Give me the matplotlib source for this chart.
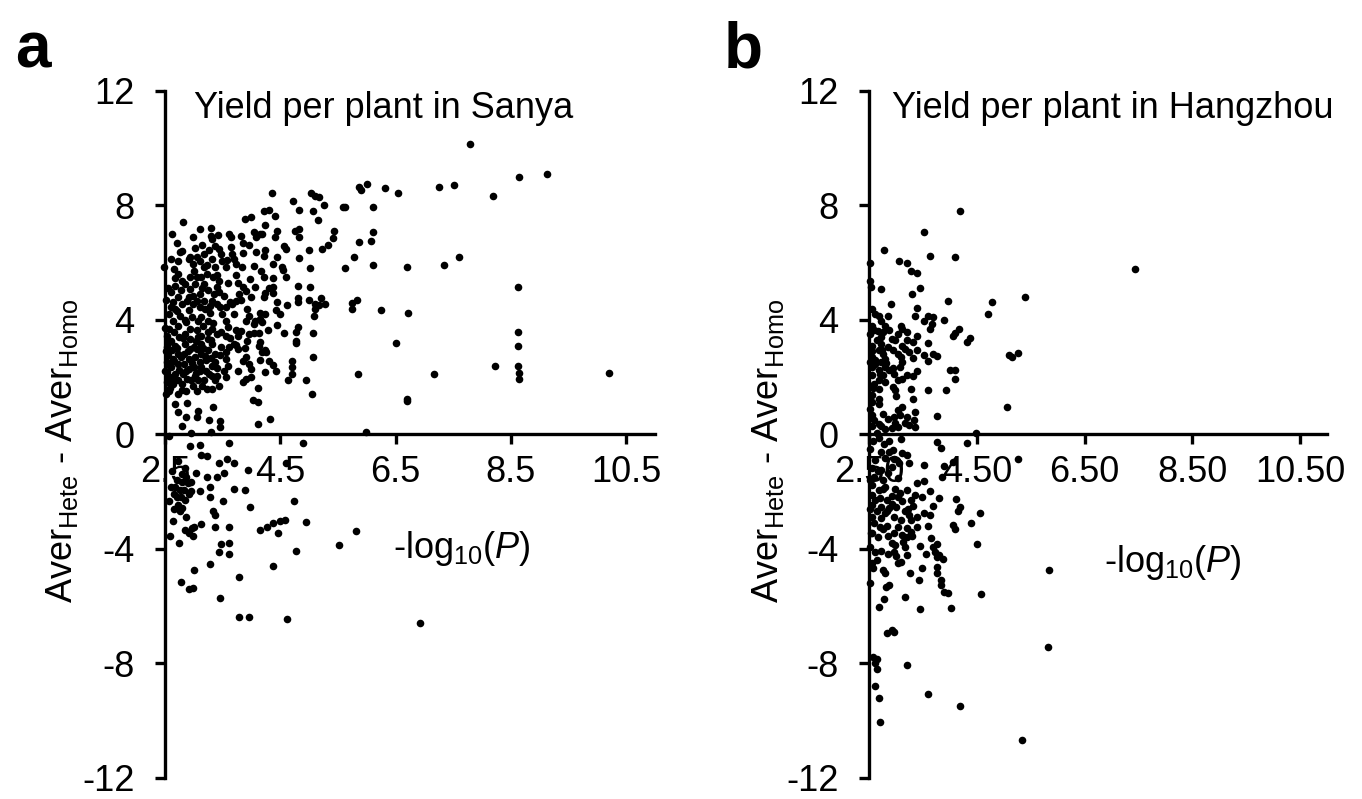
import numpy as np
import matplotlib
matplotlib.use("Agg")
import matplotlib.pyplot as plt

plt.rcParams['font.family'] = ['Liberation Sans', 'DejaVu Sans']
plt.rcParams['mathtext.fontset'] = 'custom'
plt.rcParams['mathtext.rm'] = 'Liberation Sans'
plt.rcParams['mathtext.it'] = 'Liberation Sans:italic'

# (-log10 P, Aver_Hete - Aver_Homo)
sanya = [
    (7.79, 10.16), (9.13, 9.10), (8.64, 8.98), (8.19, 8.33), (7.51, 8.71), (7.25, 8.65),
    (6.55, 8.43), (6.31, 8.60), (6.00, 8.74), (5.86, 8.65), (5.90, 8.53), (6.11, 7.93),
    (5.58, 7.93), (5.62, 7.93), (6.10, 7.08), (6.08, 6.77), (5.87, 6.73), (5.78, 6.19),
    (5.62, 5.80), (6.11, 5.93), (6.69, 5.84), (7.34, 5.92), (7.60, 6.21), (8.62, 5.16),
    (8.62, 3.59), (8.62, 3.07), (8.62, 2.38), (8.64, 2.14), (8.64, 1.94), (8.23, 2.38),
    (10.2, 2.14), (7.16, 2.09), (6.50, 3.20), (6.72, 4.23), (6.24, 4.33), (5.83, 4.71),
    (5.75, 4.58), (5.74, 4.38), (5.85, 2.09), (6.70, 1.24), (5.43, 7.11), (5.41, 6.85),
    (5.33, 6.60), (5.23, 6.48), (5.26, 8.02), (5.17, 8.28), (5.11, 8.33), (5.04, 8.45),
    (5.06, 7.79), (5.15, 7.50), (4.83, 7.85), (4.72, 8.16), (4.82, 7.17), (4.75, 7.11),
    (4.83, 6.91), (4.99, 6.43), (4.82, 6.15), (5.02, 5.81), (5.01, 5.14), (4.80, 5.17),
    (4.81, 4.76), (4.80, 4.62), (4.99, 4.71), (5.11, 4.56), (5.20, 4.76), (5.28, 4.56),
    (5.18, 4.53), (5.11, 4.38), (5.09, 4.15), (5.07, 3.53), (5.07, 2.70), (5.05, 1.42),
    (4.95, 1.88), (4.80, 3.74), (4.78, 3.56), (4.78, 3.27), (4.78, 3.20), (4.71, 2.56),
    (4.71, 2.35), (4.71, 2.12), (4.63, 1.88), (4.62, 4.52), (4.56, 3.55), (4.49, 4.21),
    (4.60, 5.49), (4.54, 5.74), (4.53, 5.84), (4.56, 6.58), (4.60, 6.47), (4.45, 6.19),
    (4.35, 8.42), (4.41, 7.64), (4.45, 7.11), (4.41, 6.90), (4.31, 7.84), (4.22, 7.79),
    (4.24, 7.33), (4.18, 7.00), (4.15, 7.00), (4.00, 7.60), (3.89, 7.52), (4.04, 7.06),
    (4.24, 6.43), (4.22, 6.22), (4.07, 6.38), (4.05, 5.88), (4.16, 5.72), (4.22, 5.51),
    (4.37, 5.95), (4.38, 5.47), (4.37, 5.16), (4.31, 5.12), (4.24, 4.93), (4.22, 4.79),
    (4.38, 4.93), (4.44, 4.64), (4.43, 4.35), (4.15, 4.23), (4.24, 4.19), (4.19, 3.94),
    (4.15, 4.03), (4.06, 3.97), (3.96, 4.12), (3.92, 4.38), (3.91, 3.97), (4.04, 3.86),
    (4.45, 3.81), (4.28, 3.63), (4.13, 3.53), (4.04, 3.53), (3.96, 3.51), (4.15, 3.22),
    (4.13, 3.10), (4.23, 2.93), (4.26, 2.87), (4.19, 2.87), (4.30, 2.56), (4.14, 2.58),
    (4.38, 2.41), (4.43, 2.20), (4.24, 2.17), (4.00, 2.29), (4.11, 1.60), (4.00, 1.99),
    (3.91, 1.94), (3.85, 1.82), (3.77, 2.21), (3.85, 2.56), (3.90, 2.70), (3.76, 2.99),
    (3.74, 3.63), (3.74, 3.13), (3.77, 3.42), (3.92, 3.26), (4.00, 4.81), (4.06, 5.16),
    (3.98, 5.43), (3.85, 5.16), (3.91, 5.02), (3.78, 4.91), (3.74, 4.67), (3.81, 4.70),
    (3.66, 4.56), (3.62, 4.62), (3.56, 4.44), (3.49, 4.21), (3.55, 3.97), (3.59, 3.74),
    (3.47, 3.56), (3.55, 3.44), (3.62, 3.38), (3.70, 3.15), (3.61, 3.05), (3.56, 2.87),
    (3.46, 2.76), (3.55, 2.63), (3.59, 2.40), (3.52, 2.22), (3.56, 2.00), (3.40, 2.05),
    (3.36, 1.88), (3.44, 1.70), (3.32, 1.59), (3.83, 5.84), (3.73, 5.58), (3.69, 6.13),
    (3.66, 6.30), (3.64, 6.56), (3.65, 6.88), (3.61, 7.00), (3.81, 6.94), (3.85, 6.70),
    (3.86, 6.35), (3.74, 5.95), (3.76, 5.30), (3.55, 5.84), (3.49, 6.07), (3.47, 6.30),
    (3.44, 6.47), (3.36, 6.59), (3.32, 6.83), (3.29, 6.94), (3.26, 6.43), (3.32, 6.13),
    (3.36, 5.84), (3.40, 5.55), (3.34, 5.49), (3.44, 5.37), (3.40, 5.14), (3.35, 4.91),
    (3.44, 4.97), (3.32, 4.67), (3.40, 4.56), (3.46, 4.44), (3.28, 4.23), (3.34, 3.88),
    (3.25, 3.97), (3.32, 3.68), (3.24, 3.56), (3.40, 3.51), (3.25, 3.33), (3.32, 3.15),
    (3.24, 2.96), (3.36, 2.81), (3.29, 2.67), (3.21, 2.58), (3.36, 2.52), (3.31, 2.40),
    (3.21, 2.22), (3.31, 2.05), (3.17, 1.88), (3.23, 1.59), (3.10, 7.17), (3.17, 6.30),
    (3.10, 6.07), (3.17, 5.84), (3.13, 5.49), (3.23, 5.60), (3.17, 5.26), (3.25, 5.03),
    (3.11, 4.91), (3.17, 4.67), (3.10, 4.44), (3.19, 4.38), (3.13, 4.09), (3.07, 3.97),
    (3.16, 3.80), (3.06, 3.63), (3.13, 3.44), (3.04, 3.27), (3.13, 3.15), (3.06, 2.99),
    (3.13, 2.81), (3.02, 2.70), (3.10, 2.52), (3.01, 2.35), (3.10, 2.22), (3.02, 2.05),
    (3.08, 1.88), (2.98, 1.70), (3.06, 1.51), (3.02, 6.52), (3.06, 6.19), (2.98, 5.95),
    (2.94, 6.19), (2.91, 6.13), (3.01, 5.72), (2.94, 5.49), (3.02, 5.26), (2.94, 5.08),
    (2.98, 4.85), (2.88, 4.67), (2.98, 4.56), (2.91, 4.33), (2.96, 4.09), (2.87, 3.92),
    (2.94, 3.68), (2.85, 3.51), (2.94, 3.33), (2.85, 3.15), (2.94, 2.99), (2.83, 2.81),
    (2.91, 2.63), (2.83, 2.46), (2.91, 2.29), (2.81, 2.12), (2.88, 1.94), (2.80, 1.77),
    (2.87, 1.51), (2.81, 7.41), (2.76, 6.36), (2.80, 6.40), (2.72, 6.07), (2.66, 5.78),
    (2.61, 6.13), (2.63, 7.00), (2.49, 5.84), (2.72, 5.60), (2.80, 5.37), (2.68, 5.20),
    (2.61, 4.97), (2.77, 5.03), (2.72, 4.79), (2.64, 4.62), (2.79, 4.56), (2.68, 4.38),
    (2.57, 4.21), (2.76, 4.15), (2.64, 3.97), (2.72, 3.80), (2.57, 3.68), (2.65, 3.56),
    (2.53, 3.45), (2.74, 3.39), (2.60, 3.27), (2.67, 3.10), (2.53, 3.05), (2.62, 2.93),
    (2.72, 2.81), (2.55, 2.76), (2.64, 2.63), (2.53, 2.52), (2.72, 2.46), (2.60, 2.35),
    (2.53, 2.17), (2.67, 2.12), (2.59, 2.00), (2.53, 1.83), (2.64, 1.77), (2.72, 1.88),
    (2.57, 1.51), (2.72, 1.42),
    # extra points in the dense block
    (2.52, 2.90), (2.55, 3.20), (2.58, 2.40), (2.62, 1.95), (2.66, 2.55), (2.70, 3.00),
    (2.75, 2.25), (2.78, 2.70), (2.82, 3.35), (2.86, 2.20), (2.90, 2.90), (2.96, 2.50),
    (3.00, 3.05), (3.04, 2.15), (3.08, 3.40), (3.12, 2.35), (3.16, 3.00), (3.20, 2.75),
    (3.26, 2.10), (3.30, 3.30), (2.60, 4.45), (2.70, 4.30), (2.84, 4.00), (2.92, 4.80),
    (3.05, 4.65), (3.15, 5.10), (3.28, 4.50), (2.55, 5.10), (2.68, 5.45), (2.85, 5.25),
    (3.05, 5.50), (3.22, 5.90), (2.58, 1.60), (2.80, 1.55), (2.95, 1.90), (3.15, 1.70),
    (3.40, 2.30), (3.48, 3.05), (3.52, 4.85), (3.60, 5.30), (3.70, 4.20), (3.82, 3.60),
    (3.88, 3.00), (3.95, 2.45), (3.58, 6.10), (3.95, 6.60), (4.08, 6.90), (3.42, 6.95),
    (3.30, 7.20), (2.70, 6.70), (2.98, 6.90), (3.15, 6.60), (2.50, 2.20), (2.50, 3.70),
    (2.52, 4.70), (2.51, 1.40),
    # below ~1.2
    (2.68, 1.06), (2.88, 1.08), (2.72, 0.79), (2.87, 0.62), (3.08, 0.83), (3.06, 0.62),
    (2.79, 0.29), (2.95, 0.03), (3.27, 0.50), (3.29, 0.09), (3.34, 0.97), (3.46, 0.48),
    (3.46, 0.27), (4.11, 0.36), (4.32, 0.54), (4.02, 1.20), (4.12, 1.11), (6.70, 1.17),
    (5.98, 0.09), (2.57, -0.06), (2.93, -0.41), (3.10, -0.37), (3.12, -0.72), (3.22, -0.76),
    (3.61, -0.29), (4.89, -0.31), (4.60, -0.99), (3.44, -0.99), (3.57, -0.87), (3.70, -1.01),
    (3.94, -1.25), (3.53, -1.36), (3.40, -1.48), (3.23, -1.50), (3.28, -1.85), (3.10, -2.00),
    (3.70, -1.92), (3.89, -1.95), (2.85, -1.19), (2.87, -1.48), (3.03, -1.34), (2.95, -1.66),
    (2.79, -1.66), (2.68, -1.83), (2.61, -1.85), (2.83, -1.95), (2.76, -1.95), (2.91, -2.09),
    (3.28, -2.18), (3.51, -2.33), (2.57, -2.35), (2.72, -2.47), (2.79, -2.59), (2.76, -2.70),
    (3.34, -2.70), (3.36, -2.82), (3.97, -2.55), (4.73, -2.35), (2.87, -2.90), (2.64, -3.02),
    (3.13, -3.14), (3.00, -3.23), (2.96, -3.29), (2.85, -3.34), (2.91, -3.46), (2.98, -3.55),
    (3.36, -3.23), (3.61, -3.23), (4.14, -3.34), (4.27, -3.23), (4.38, -3.09), (4.49, -3.02),
    (4.58, -3.00), (4.95, -3.07), (4.46, -3.46), (5.82, -3.38), (5.51, -3.87), (2.58, -3.55),
    (2.75, -3.79), (3.48, -3.83), (3.61, -3.79), (3.43, -4.10), (3.61, -4.18), (4.78, -4.07),
    (3.28, -4.55), (4.38, -4.60), (3.01, -4.74), (3.78, -5.00), (2.77, -5.15), (2.91, -5.41),
    (2.98, -5.38), (3.45, -5.73), (3.78, -6.40), (3.95, -6.40), (4.62, -6.47), (6.93, -6.61),
    (2.70, -2.20), (2.80, -1.40), (2.66, -2.60), (2.73, -0.95),
    (2.62, -1.30), (2.70, -1.60), (2.85, -2.30), (2.95, -2.00), (2.66, -2.10), (2.78, -2.20),
    (2.90, -1.70),
]

hangzhou = [
    (4.18, 7.79), (3.52, 7.06), (2.78, 6.44), (3.64, 6.24), (4.10, 6.21), (3.06, 6.05),
    (3.20, 5.99), (7.44, 5.78), (2.52, 5.98), (3.28, 5.70), (3.40, 5.63), (2.52, 5.37),
    (2.54, 5.16), (2.72, 5.07), (3.44, 5.12), (3.30, 4.91), (3.97, 4.67), (4.78, 4.64),
    (5.40, 4.79), (2.90, 4.56), (3.40, 4.42), (4.71, 4.19), (2.56, 4.38), (2.62, 4.21),
    (2.68, 4.15), (2.86, 4.15), (2.72, 3.97), (3.36, 4.12), (3.60, 4.15), (3.68, 4.09),
    (3.52, 3.97), (3.89, 4.01), (3.66, 3.86), (3.63, 3.69), (2.56, 3.80), (2.80, 3.80),
    (3.10, 3.80), (3.12, 3.69), (2.60, 3.63), (2.76, 3.57), (3.04, 3.51), (3.20, 3.57),
    (3.40, 3.45), (4.17, 3.69), (4.10, 3.55), (4.05, 3.45), (2.72, 3.39), (2.92, 3.34),
    (2.99, 3.28), (2.65, 3.28), (3.20, 3.28), (3.32, 3.22), (4.37, 3.36), (4.31, 3.22),
    (3.59, 3.19), (2.56, 3.10), (2.72, 3.16), (2.86, 3.05), (3.12, 3.10), (2.94, 2.95),
    (3.16, 2.99), (3.24, 2.87), (3.40, 2.93), (2.68, 2.93), (2.76, 2.81), (3.04, 2.81),
    (2.80, 2.64), (2.56, 2.70), (3.10, 2.70), (3.32, 2.67), (3.52, 2.76), (3.77, 2.73),
    (3.69, 2.81), (5.10, 2.76), (5.16, 2.70), (5.26, 2.84), (2.52, 2.52), (2.62, 2.58),
    (2.72, 2.52), (3.12, 2.52), (3.59, 2.55), (2.56, 2.35), (2.80, 2.35), (2.87, 2.23),
    (2.68, 2.23), (4.01, 2.23), (4.09, 2.26), (3.40, 2.21), (2.56, 2.06), (2.76, 2.06),
    (2.96, 2.12), (3.20, 2.06), (3.32, 2.02), (4.10, 1.94), (2.68, 1.91), (2.80, 1.83),
    (3.04, 1.88), (3.12, 1.94), (2.60, 1.77), (2.94, 1.65), (2.68, 1.59), (2.99, 1.56),
    (3.28, 1.59), (3.59, 1.53), (3.93, 1.56), (2.56, 1.36), (2.68, 1.24), (3.32, 1.24),
    # extra points near the axis
    (2.52, 3.50), (2.55, 2.90), (2.58, 1.60), (2.62, 2.45), (2.66, 3.60), (2.70, 2.10),
    (2.75, 2.95), (2.82, 2.50), (2.88, 3.65), (2.95, 2.30), (3.00, 1.35), (3.08, 2.35),
    # below ~1.2
    (5.07, 0.94), (3.77, 0.64), (2.56, 1.14), (2.68, 1.06), (2.76, 0.71), (2.96, 0.62),
    (3.04, 0.85), (3.12, 0.97), (3.08, 0.68), (3.20, 0.59), (3.24, 0.33), (3.36, 0.79),
    (3.36, 0.24), (3.34, 0.50), (3.17, 0.38), (2.56, 0.68), (2.56, 0.29), (2.68, 0.36),
    (2.73, 0.29), (2.80, 0.17), (2.92, 0.21), (3.04, 0.27), (4.48, 0.03), (4.31, -0.31),
    (3.77, -0.26), (3.83, -0.49), (2.68, -0.14), (2.88, -0.22), (3.10, -0.17), (2.73, -0.61),
    (2.88, -0.61), (3.12, -0.66), (3.20, -0.72), (5.26, -0.87), (4.05, -0.96), (2.62, -0.90),
    (2.80, -0.84), (2.96, -0.87), (3.24, -1.01), (3.52, -1.07), (3.89, -1.11), (2.56, -1.19),
    (2.72, -1.25), (2.92, -1.13), (2.86, -1.36), (2.59, -1.48), (2.76, -1.60), (3.04, -1.54),
    (3.40, -1.71), (3.52, -1.62), (3.85, -1.48), (2.56, -1.77), (2.80, -1.85), (2.68, -1.95),
    (3.20, -1.95), (3.36, -2.12), (3.63, -1.97), (4.11, -2.27), (3.79, -2.24), (3.04, -2.18),
    (2.92, -2.16), (2.56, -2.12), (2.70, -2.24), (2.84, -2.30), (3.12, -2.32), (3.28, -2.30),
    (3.48, -2.20), (3.69, -2.51), (4.19, -2.53), (2.56, -2.47), (2.72, -2.53), (2.88, -2.59),
    (3.00, -2.53), (3.32, -2.51), (4.15, -2.70), (2.64, -2.70), (2.80, -2.76), (3.17, -2.70),
    (3.24, -2.82), (3.52, -2.76), (3.63, -2.82), (4.56, -2.76), (2.56, -2.88), (2.73, -2.94),
    (2.96, -2.88), (3.28, -3.00), (3.40, -2.90), (4.40, -3.09), (4.06, -3.17), (4.09, -3.32),
    (3.60, -3.21), (2.70, -3.25), (2.84, -3.21), (3.04, -3.23), (3.20, -3.29), (3.28, -3.40),
    (3.40, -3.23), (2.56, -3.46), (2.96, -3.46), (3.12, -3.52), (3.21, -3.58), (3.65, -3.64),
    (2.93, -3.79), (2.99, -3.87), (3.16, -3.93), (3.69, -3.93), (3.77, -3.84), (4.51, -3.85),
    (3.72, -4.10), (3.80, -4.22), (3.88, -4.37), (3.76, -4.30), (2.62, -4.10), (2.72, -4.07),
    (2.96, -4.10), (3.20, -4.22), (3.10, -4.45), (3.04, -4.51), (2.56, -4.51), (2.58, -4.69),
    (2.76, -4.74), (2.80, -4.86), (3.27, -4.86), (3.48, -4.69), (3.77, -4.63), (3.77, -4.86),
    (3.83, -5.09), (3.83, -5.27), (3.43, -5.09), (5.84, -4.74), (2.88, -5.27), (2.81, -5.33),
    (3.89, -5.50), (3.97, -5.56), (4.57, -5.59), (2.78, -5.77), (3.16, -5.70), (2.68, -6.03),
    (4.03, -6.06), (3.44, -6.12), (2.84, -6.96), (2.96, -6.93), (2.92, -6.84), (5.82, -7.45),
    (2.58, -7.77), (2.65, -7.87), (2.61, -8.01), (2.65, -8.22), (3.20, -8.07), (2.61, -8.80),
    (2.68, -9.23), (3.59, -9.08), (4.19, -9.50), (2.70, -10.05), (5.34, -10.69), (2.54, -3.46),
    (2.52, 0.90), (2.60, 0.50), (2.64, 0.05), (2.85, 0.55), (2.98, 0.40), (2.52, -0.50),
    (2.58, -0.25), (2.78, -0.35), (2.95, -0.55), (3.05, -1.00), (2.52, -1.60), (2.62, -2.30),
    (2.66, -1.30), (2.76, -1.90), (2.84, -2.70), (2.92, -2.45), (2.98, -1.90), (3.08, -2.05),
    (2.52, -2.60), (2.60, -3.10), (2.66, -3.60), (2.76, -3.30), (2.86, -3.55), (3.10, -3.00),
    (3.22, -2.60), (2.52, -3.95), (2.64, -4.40), (2.86, -4.20), (3.00, -4.25), (3.14, -3.75),
    (3.30, -3.55), (3.45, -3.90), (3.55, -4.20), (2.52, -5.20),
]

y_ticks = [12, 8, 4, 0, -4, -8, -12]
x_ticks = [2.5, 4.5, 6.5, 8.5, 10.5]
x_labels_a = ['2.5', '4.5', '6.5', '8.5', '10.5']
x_labels_b = ['2.50', '4.50', '6.50', '8.50', '10.50']

W, H = 1362, 799
fig = plt.figure(figsize=(W / 100, H / 100), dpi=100)


def panel(left_px, right_px, pts, xlabels, title, title_x, letter, letter_x, ylab_x, xlab_pos):
    ax = fig.add_axes([left_px / W, (H - 777.5) / H, (right_px - left_px) / W, 686.5 / H])
    pts = np.array(pts)
    ax.scatter(pts[:, 0], pts[:, 1], s=30, color='black', linewidths=0, clip_on=False, zorder=3)
    ax.set_xlim(2.5, 11)
    ax.set_ylim(-12, 12)
    for s in ['top', 'right']:
        ax.spines[s].set_visible(False)
    ax.spines['bottom'].set_position(('data', 0))
    ax.spines['left'].set_linewidth(2.4)
    ax.spines['bottom'].set_linewidth(2.4)
    ax.set_yticks(y_ticks)
    ax.set_yticklabels([str(v) for v in y_ticks])
    ax.set_xticks(x_ticks)
    ax.set_xticklabels(xlabels)
    ax.tick_params(axis='y', direction='out', length=7, width=2.4, pad=15, labelsize=26)
    ax.tick_params(axis='x', direction='out', length=7, width=2.4, pad=8, labelsize=26)
    ax.text(title_x, 11.07, title, fontsize=26, ha='left', va='baseline')
    ax.text(xlab_pos[0], xlab_pos[1], r'-log$_{10}$($\mathit{P}$)', fontsize=26,
            ha='center', va='center')
    fig.text(letter_x / W, (H - 68) / H, letter, fontsize=46, fontweight='bold',
             ha='left', va='baseline')
    fig.text(ylab_x / W, 1 - 451 / H, r'Aver$_{\mathrm{Hete}}$ - Aver$_{\mathrm{Homo}}$',
             fontsize=26, rotation=90, ha='center', va='center')
    return ax


panel(165, 655, sanya, x_labels_a, 'Yield per plant in Sanya', 3.0, 'a', 15, 62, (7.65, -4.0))
panel(869, 1327, hangzhou, x_labels_b, 'Yield per plant in Hangzhou', 2.92, 'b', 724, 768,
      (8.13, -4.5))

fig.savefig('out.png', dpi=100)
